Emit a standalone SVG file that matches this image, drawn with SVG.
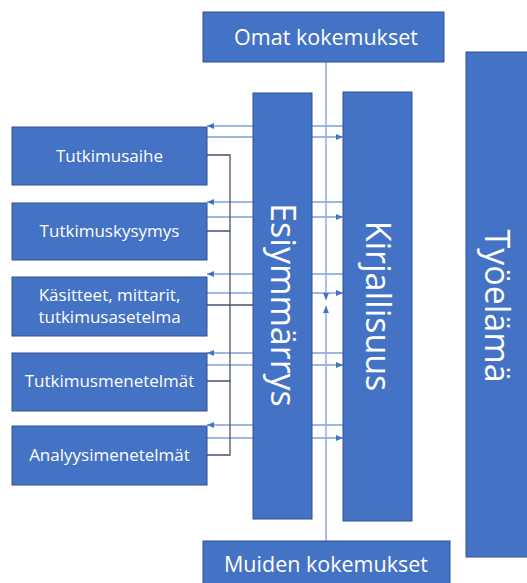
<svg xmlns="http://www.w3.org/2000/svg" width="527" height="583" viewBox="0 0 527 583">
<style>
.box{fill:#4472C4;stroke:#2F528F;stroke-width:1}
.lbl{fill:#FFFFFF;font-family:"Open Sans","Noto Sans",sans-serif;text-anchor:middle}
.sm{font-size:17px}
.md{font-size:21.5px}
.lg{font-size:34px}
.con{stroke:#4472C4;stroke-width:1.2;fill:none}
.brk{stroke:#44546A;stroke-width:1.3;fill:none}
.vert{stroke:#8FAADC;stroke-width:1.5;fill:none}
</style>
<defs>
<marker id="ah" markerUnits="userSpaceOnUse" markerWidth="7" markerHeight="6" refX="7" refY="3" orient="auto">
<path d="M0,0 L7,3 L0,6 z" fill="#4472C4"/>
</marker>
</defs>
<rect width="527" height="583" fill="#FFFFFF"/>
<g id="connectors">
<line class="con" x1="343" y1="126" x2="207" y2="126" marker-end="url(#ah)"/>
<line class="con" x1="207" y1="137" x2="343" y2="137" marker-end="url(#ah)"/>
<line class="con" x1="343" y1="202" x2="207" y2="202" marker-end="url(#ah)"/>
<line class="con" x1="207" y1="217" x2="343" y2="217" marker-end="url(#ah)"/>
<line class="con" x1="343" y1="274" x2="207" y2="274" marker-end="url(#ah)"/>
<line class="con" x1="207" y1="293" x2="343" y2="293" marker-end="url(#ah)"/>
<line class="con" x1="343" y1="353" x2="207" y2="353" marker-end="url(#ah)"/>
<line class="con" x1="207" y1="365" x2="343" y2="365" marker-end="url(#ah)"/>
<line class="con" x1="343" y1="425" x2="207" y2="425" marker-end="url(#ah)"/>
<line class="con" x1="207" y1="438" x2="343" y2="438" marker-end="url(#ah)"/>
<path class="brk" d="M207,155 H230 V455 H207 M207,231 H230 M207,305 H253 M207,381 H230"/>
<line class="vert" x1="326" y1="62" x2="326" y2="300" marker-end="url(#ah)"/>
<line class="vert" x1="326" y1="541" x2="326" y2="306" marker-end="url(#ah)"/>
</g>
<g id="omat">
<rect class="box" x="203" y="12" width="241" height="50"/>
<text class="lbl md" x="326" y="45">Omat kokemukset</text>
</g>
<g id="muiden">
<rect class="box" x="203" y="541" width="247" height="45"/>
<text class="lbl md" x="326" y="572">Muiden kokemukset</text>
</g>
<g id="esiymmarrys">
<rect class="box" x="253" y="93" width="59" height="426"/>
<text class="lbl lg" transform="translate(282.5,305) rotate(90)" x="0" y="12">Esiymmärrys</text>
</g>
<g id="kirjallisuus">
<rect class="box" x="343" y="92" width="69" height="429"/>
<text class="lbl lg" transform="translate(377.5,306) rotate(90)" x="0" y="12">Kirjallisuus</text>
</g>
<g id="tyoelama">
<rect class="box" x="466" y="52" width="66" height="505"/>
<text class="lbl lg" transform="translate(497,306) rotate(90)" x="0" y="12">Työelämä</text>
</g>
<g id="tutkimusaihe">
<rect class="box" x="12" y="127" width="195" height="58"/>
<text class="lbl sm" x="109.5" y="162">Tutkimusaihe</text>
</g>
<g id="tutkimuskysymys">
<rect class="box" x="12" y="203" width="195" height="57"/>
<text class="lbl sm" x="109.5" y="237">Tutkimuskysymys</text>
</g>
<g id="kasitteet">
<rect class="box" x="12" y="277" width="195" height="59"/>
<text class="lbl sm" x="109.5" y="301">Käsitteet, mittarit,</text>
<text class="lbl sm" x="109.5" y="323">tutkimusasetelma</text>
</g>
<g id="tutkimusmenetelmat">
<rect class="box" x="12" y="353" width="195" height="58"/>
<text class="lbl sm" x="109.5" y="387">Tutkimusmenetelmät</text>
</g>
<g id="analyysimenetelmat">
<rect class="box" x="12" y="426" width="195" height="59"/>
<text class="lbl sm" x="109.5" y="461">Analyysimenetelmät</text>
</g>
</svg>
